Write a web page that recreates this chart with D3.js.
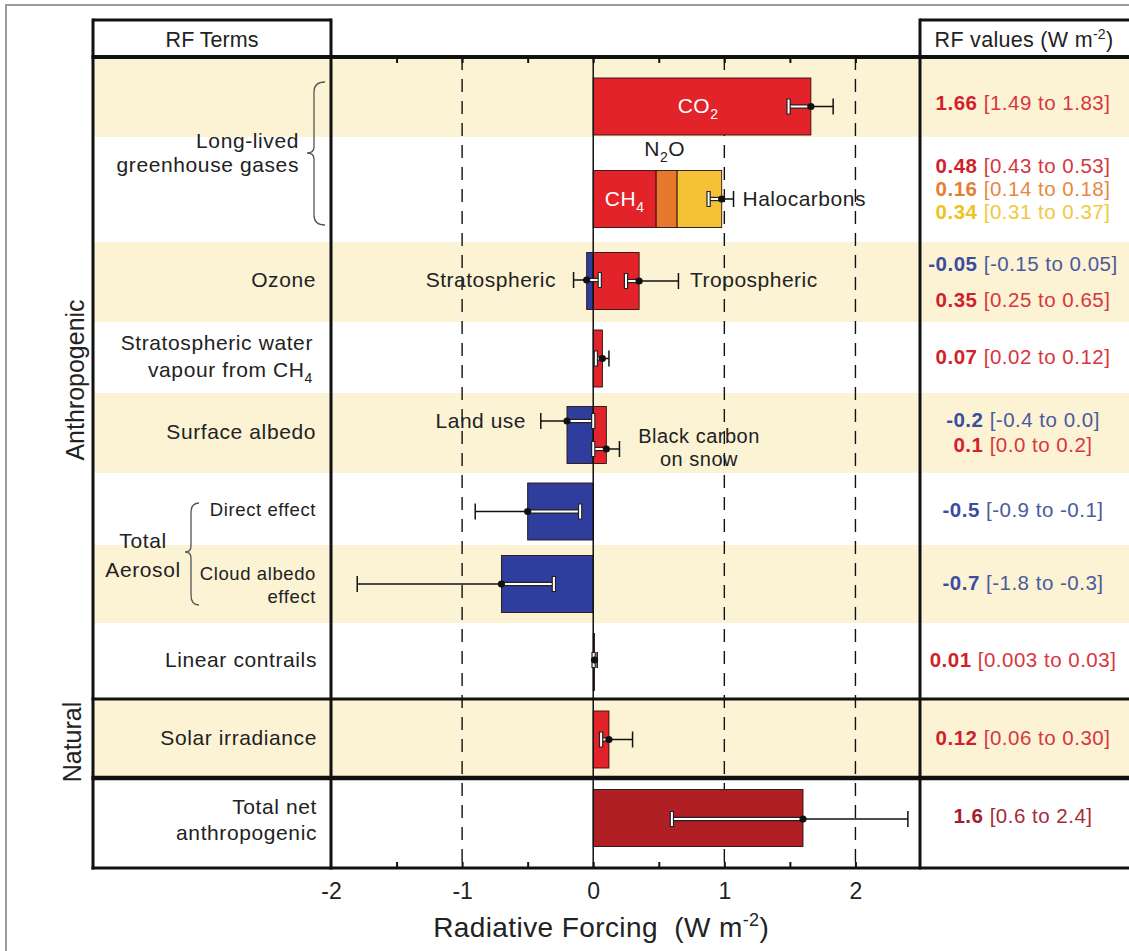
<!DOCTYPE html>
<html>
<head>
<meta charset="utf-8">
<script src="https://cdn.jsdelivr.net/npm/d3@7"></script>
<style>
  body { margin: 0; background: #fff; }
  svg { display: block; font-family: "Liberation Sans", Arial, Helvetica, sans-serif; }
</style>
</head>
<body>
<svg id="chart" width="1129" height="951"></svg>
<script>
// ---------------- data ----------------
// Radiative forcing terms (W m-2), best estimate and uncertainty range, as printed
const terms = ["CO2", "CH4", "N2O", "Halocarbons", "Stratospheric ozone", "Tropospheric ozone",
  "Stratospheric water vapour", "Land use", "Black carbon on snow", "Direct effect",
  "Cloud albedo effect", "Linear contrails", "Solar irradiance", "Total net anthropogenic"];
const valueText = ["1.66", "0.48", "0.16", "0.34", "-0.05", "0.35", "0.07", "-0.2", "0.1", "-0.5", "-0.7", "0.01", "0.12", "1.6"];
const lowText   = ["1.49", "0.43", "0.14", "0.31", "-0.15", "0.25", "0.02", "-0.4", "0.0", "-0.9", "-1.8", "0.003", "0.06", "0.6"];
const highText  = ["1.83", "0.53", "0.18", "0.37", "0.05", "0.65", "0.12", "0.0", "0.2", "-0.1", "-0.3", "0.03", "0.30", "2.4"];
// row (band) each term is drawn in
const termRow = [0, 1, 1, 1, 2, 2, 3, 4, 4, 5, 6, 7, 8, 9];
// terms that carry their own whisker (the three minor gases share one whisker)
const ownWhisker = [true, false, false, false, true, true, true, true, true, true, true, true, true, true];
// combined CH4 + N2O + halocarbons whisker
const gasGroupValue = 0.98;
const gasGroupRange = [0.88, 1.07];

// row captions in the left column
const rowLabels = [
  ["Long-lived", "greenhouse gases"],
  ["Ozone"],
  ["Stratospheric water", "vapour from CH|4"],
  ["Surface albedo"],
  ["Direct effect"],
  ["Cloud albedo", "effect"],
  ["Linear contrails"],
  ["Solar irradiance"],
  ["Total net", "anthropogenic"]
];
const groupLabels = ["Anthropogenic", "Natural"];
const tickValues = [-1.5, -1, -0.5, 0, 0.5, 1, 1.5, 2];
const tickLabels = [-2, -1, 0, 1, 2];
const gridValues = [-1, 1, 2];

const values = valueText.map(Number);
const lows = lowText.map(Number);
const highs = highText.map(Number);

// ---------------- styles & layout ----------------
const termColor = {
  "CO2": "#e2232a", "CH4": "#e2232a", "N2O": "#e8792c", "Halocarbons": "#f4c234",
  "Stratospheric ozone": "#2f3e9c", "Tropospheric ozone": "#e2232a",
  "Stratospheric water vapour": "#e2232a", "Land use": "#2f3e9c", "Black carbon on snow": "#e2232a",
  "Direct effect": "#2f3e9c", "Cloud albedo effect": "#2f3e9c", "Linear contrails": "#e2232a",
  "Solar irradiance": "#e2232a", "Total net anthropogenic": "#b01f24"
};
const textColor = {
  "#e2232a": ["#d21f2b", "#d6373f"], "#e8792c": ["#e57d33", "#e8883f"],
  "#f4c234": ["#efc21f", "#f2c83c"], "#2f3e9c": ["#3a4d9e", "#4b5a9c"],
  "#b01f24": ["#a11d2c", "#a52b37"]
};
const tan = "#fcf3d5";
const W = 1129, H = 951;
const leftX0 = 93, leftX1 = 331, rightX0 = 920;
const topY = 20, headY = 57, axisY = 868;
const rowEdges = [57, 137, 242, 322, 393, 473, 545, 623, 699, 778, 868];
const tanRows = [0, 2, 4, 6, 8];
const barCenter = [106.5, 199, 281, 358.5, 435, 511.5, 584, 662, 739.5, 818];
const barH = 57;
const whiskerOffset = [0, 0, 0, 0, -1, 0, 0, -14, 14, 0, 0, -2, 0, 1];
const valueY = [103, 166, 189, 212, 264, 300, 357, 420, 445, 510, 583, 660, 738, 816];

const svg = d3.select("#chart");
const x = d3.scaleLinear().domain([-2, 2.5]).range([leftX1, rightX0 + 1]);

// outer frame
svg.append("path").attr("d", `M6,${H} L6,5 L${W},5`).attr("fill", "none")
  .attr("stroke", "#9b9b9b").attr("stroke-width", 2);

// background bands
svg.append("g").selectAll("rect").data(tanRows).join("rect")
  .attr("x", leftX0).attr("width", W - leftX0)
  .attr("y", r => rowEdges[r]).attr("height", r => rowEdges[r + 1] - rowEdges[r])
  .attr("fill", tan);

// dashed grid
svg.append("g").selectAll("line").data(gridValues).join("line")
  .attr("x1", d => x(d)).attr("x2", d => x(d)).attr("y1", headY).attr("y2", axisY)
  .attr("stroke", "#111").attr("stroke-width", 1.4).attr("stroke-dasharray", "13,9");

// bars
const bars = terms.map((t, i) => {
  let start = 0;
  // the three minor gases are stacked end to end
  if (termRow[i] === 1) for (let j = 0; j < i; j++) if (termRow[j] === 1) start += values[j];
  return { t, i, a: start, b: start + values[i], row: termRow[i] };
});
svg.append("g").selectAll("rect").data(bars).join("rect")
  .attr("x", d => x(Math.min(d.a, d.b)))
  .attr("width", d => Math.abs(x(d.b) - x(d.a)))
  .attr("y", d => barCenter[d.row] - barH / 2).attr("height", barH)
  .attr("fill", d => termColor[d.t]).attr("stroke", "#2a1010").attr("stroke-width", 0.9);

// zero line
svg.append("line").attr("x1", x(0)).attr("x2", x(0)).attr("y1", headY).attr("y2", axisY)
  .attr("stroke", "#111").attr("stroke-width", 1.5);

// whiskers: part inside the bar drawn white, part outside drawn black
function whisker(g, v, lo, hi, y) {
  const inner = v >= 0 ? [lo, v] : [v, hi];
  const outer = v >= 0 ? [v, hi] : [lo, v];
  const innerEnd = v >= 0 ? lo : hi;
  const outerEnd = v >= 0 ? hi : lo;
  const capH = 16;
  if (Math.abs(x(inner[1]) - x(inner[0])) > 0.5) {
    g.append("line").attr("x1", x(inner[0])).attr("x2", x(inner[1])).attr("y1", y).attr("y2", y)
      .attr("stroke", "#222").attr("stroke-width", 4.4);
    g.append("line").attr("x1", x(inner[0])).attr("x2", x(inner[1])).attr("y1", y).attr("y2", y)
      .attr("stroke", "#fff").attr("stroke-width", 2);
  }
  g.append("line").attr("x1", x(innerEnd)).attr("x2", x(innerEnd)).attr("y1", y - capH / 2).attr("y2", y + capH / 2)
    .attr("stroke", "#222").attr("stroke-width", 4.4);
  g.append("line").attr("x1", x(innerEnd)).attr("x2", x(innerEnd)).attr("y1", y - capH / 2 + 1).attr("y2", y + capH / 2 - 1)
    .attr("stroke", "#fff").attr("stroke-width", 2);
  g.append("line").attr("x1", x(outer[0])).attr("x2", x(outer[1])).attr("y1", y).attr("y2", y)
    .attr("stroke", "#111").attr("stroke-width", 1.5);
  g.append("line").attr("x1", x(outerEnd)).attr("x2", x(outerEnd)).attr("y1", y - capH / 2).attr("y2", y + capH / 2)
    .attr("stroke", "#111").attr("stroke-width", 1.5);
  g.append("circle").attr("cx", x(v)).attr("cy", y).attr("r", 3.6).attr("fill", "#111");
}
const wg = svg.append("g");
terms.forEach((t, i) => {
  if (ownWhisker[i]) whisker(wg, values[i], lows[i], highs[i], barCenter[termRow[i]] + whiskerOffset[i]);
});
whisker(wg, gasGroupValue, gasGroupRange[0], gasGroupRange[1], barCenter[1]);

// table rules
const rules = svg.append("g").attr("stroke", "#111").attr("fill", "none");
rules.append("path").attr("d", `M${leftX0},${topY} L${leftX1},${topY}`).attr("stroke-width", 3);
rules.append("path").attr("d", `M${rightX0},${topY} L${W},${topY}`).attr("stroke-width", 3);
[[headY, 4], [rowEdges[8], 3.2], [rowEdges[9], 4.5], [axisY, 3.2]].forEach(([y, w]) =>
  rules.append("path").attr("d", `M${leftX0 - 1.5},${y} L${W},${y}`).attr("stroke-width", w));
[leftX0, leftX1, rightX0].forEach(xx =>
  rules.append("path").attr("d", `M${xx},${topY - 1.5} L${xx},${axisY + 1.5}`).attr("stroke-width", 3));

// axes: ticks under the header rule and above the bottom rule
const topAxis = svg.append("g").attr("transform", `translate(0,${headY})`)
  .call(d3.axisBottom(x).tickValues(tickValues).tickSize(6).tickFormat(""));
const botAxis = svg.append("g").attr("transform", `translate(0,${axisY})`)
  .call(d3.axisTop(x).tickValues(tickValues).tickSize(6).tickFormat(""));
[topAxis, botAxis].forEach(a => {
  a.select(".domain").remove();
  a.selectAll(".tick line").attr("stroke", "#111").attr("stroke-width", 2);
});
const labAxis = svg.append("g").attr("transform", `translate(0,${axisY})`)
  .call(d3.axisBottom(x).tickValues(tickLabels).tickSize(0).tickPadding(15).tickFormat(d => String(d)));
labAxis.select(".domain").remove();
labAxis.selectAll("text").attr("font-size", 23).attr("fill", "#222")
  .attr("font-family", "'Liberation Sans', Arial, sans-serif");

// axis title
const title = svg.append("text").attr("x", x(0) + 8).attr("y", 937).attr("text-anchor", "middle")
  .attr("font-size", 28).attr("fill", "#222").attr("letter-spacing", 0.4);
title.append("tspan").text("Radiative Forcing\u00a0\u00a0(W m");
title.append("tspan").attr("dy", -11).attr("font-size", 18).text("-2");
title.append("tspan").attr("dy", 11).text(")");

// headers
svg.append("text").attr("x", 212).attr("y", 47).attr("text-anchor", "middle")
  .attr("font-size", 21.5).attr("fill", "#222").text("RF Terms");
const rh = svg.append("text").attr("x", 1024).attr("y", 47).attr("text-anchor", "middle")
  .attr("font-size", 21.5).attr("fill", "#222").attr("letter-spacing", 0.3);
rh.append("tspan").text("RF values (W m");
rh.append("tspan").attr("dy", -8).attr("font-size", 14).text("-2");
rh.append("tspan").attr("dy", 8).text(")");

// helper: text with "|" marking a subscript
function richText(sel, str, subSize, subDy) {
  const parts = str.split("|");
  sel.append("tspan").text(parts[0]);
  if (parts.length > 1) {
    sel.append("tspan").attr("dy", subDy).attr("font-size", subSize).text(parts[1]);
    if (parts[2]) sel.append("tspan").attr("dy", -subDy).text(parts[2]);
  }
}

// left-column captions
const labelLayout = [
  { x: 299, y: [148, 172], size: 21 },
  { x: 316, y: [287], size: 21 },
  { x: 313, y: [350, 377], size: 21 },
  { x: 316, y: [439], size: 21 },
  { x: 316, y: [516], size: 18.5 },
  { x: 316, y: [580, 603], size: 18.5 },
  { x: 317, y: [667], size: 21 },
  { x: 317, y: [745], size: 21 },
  { x: 317, y: [814, 840], size: 21 }
];
rowLabels.forEach((lines, k) => {
  const L = labelLayout[k];
  lines.forEach((s, j) => {
    const t = svg.append("text").attr("x", L.x).attr("y", L.y[j]).attr("text-anchor", "end")
      .attr("font-size", L.size).attr("fill", "#222").attr("letter-spacing", 0.6);
    richText(t, s, 14, 6);
  });
});
["Total", "Aerosol"].forEach((s, j) =>
  svg.append("text").attr("x", 143).attr("y", [548, 577][j]).attr("text-anchor", "middle")
    .attr("font-size", 21).attr("fill", "#222").attr("letter-spacing", 0.6).text(s));

// curly braces
function brace(xTip, xBody, xEnd, y0, yTip, y1) {
  const r = 10;
  return `M${xEnd},${y0} Q${xBody},${y0} ${xBody},${y0 + r} L${xBody},${yTip - 6}
          Q${xBody},${yTip} ${xTip},${yTip} Q${xBody},${yTip} ${xBody},${yTip + 6}
          L${xBody},${y1 - r} Q${xBody},${y1} ${xEnd},${y1}`;
}
svg.append("path").attr("d", brace(307, 314, 325, 82, 153, 225))
  .attr("fill", "none").attr("stroke", "#555").attr("stroke-width", 1.3);
svg.append("path").attr("d", brace(185, 191, 199, 503, 552, 605))
  .attr("fill", "none").attr("stroke", "#555").attr("stroke-width", 1.3);

// group captions (rotated)
[[groupLabels[0], 380, 84], [groupLabels[1], 742, 81]].forEach(([s, cy, cx]) =>
  svg.append("text").attr("transform", `translate(${cx},${cy}) rotate(-90)`)
    .attr("text-anchor", "middle").attr("font-size", 25).attr("fill", "#222").text(s));

// in-plot annotations
const ann = svg.append("g").attr("font-size", 21).attr("fill", "#222").attr("letter-spacing", 0.5);
let t;
t = ann.append("text").attr("x", x((0 + values[0]) / 2) - 4).attr("y", 113).attr("text-anchor", "middle").attr("fill", "#fff");
richText(t, "CO|2", 14, 6);
t = ann.append("text").attr("x", x(values[1] / 2)).attr("y", 206).attr("text-anchor", "middle").attr("fill", "#fff");
richText(t, "CH|4", 14, 6);
t = ann.append("text").attr("x", x(values[1] + values[2] / 2) - 2).attr("y", 156).attr("text-anchor", "middle");
richText(t, "N|2|O", 14, 6);
ann.append("text").attr("x", x(gasGroupRange[1]) + 9).attr("y", 206).text("Halocarbons");
ann.append("text").attr("x", 556).attr("y", 287).attr("text-anchor", "end").text("Stratospheric");
ann.append("text").attr("x", 690).attr("y", 287).text("Tropospheric");
ann.append("text").attr("x", 526).attr("y", 428).attr("text-anchor", "end").text("Land use");
ann.append("text").attr("x", 699).attr("y", 443).attr("text-anchor", "middle").attr("font-size", 20).text("Black carbon");
ann.append("text").attr("x", 699).attr("y", 466).attr("text-anchor", "middle").attr("font-size", 20).text("on snow");

// right-column values
terms.forEach((term, i) => {
  const [c1, c2] = textColor[termColor[term]];
  const tx = svg.append("text").attr("x", 1023).attr("y", valueY[i] + 7).attr("text-anchor", "middle")
    .attr("font-size", 20.5).attr("letter-spacing", 0.5);
  tx.append("tspan").attr("font-weight", "bold").attr("fill", c1).text(valueText[i]);
  tx.append("tspan").attr("fill", c2).text(` [${lowText[i]} to ${highText[i]}]`);
});
</script>
</body>
</html>
